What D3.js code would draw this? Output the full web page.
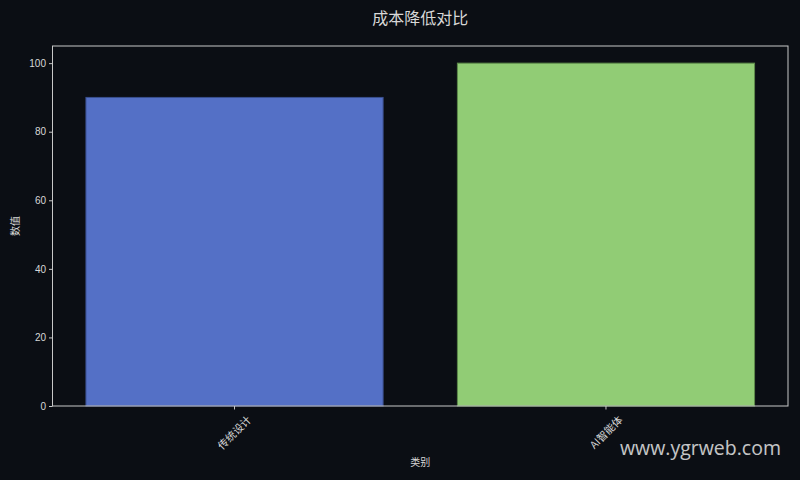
<!DOCTYPE html>
<html>
<head>
<meta charset="utf-8">
<script src="https://cdn.jsdelivr.net/npm/d3@7"></script>
<style>
  html, body { margin: 0; padding: 0; background: #0b0e14; }
  svg { display: block; }
</style>
</head>
<body>
<svg id="chart" width="800" height="480"></svg>
<script>
// chart data
const categories = ["传统设计", "AI智能体"];
const values = [90, 100];
const barColors = ["#5470c6", "#91cc75"];
const edgeColors = ["#3a4f8f", "#5d8a4a"];
const yTicks = [0, 20, 40, 60, 80, 100];

const svg = d3.select("#chart");
const width = +svg.attr("width");
const height = +svg.attr("height");
const margin = { top: 46, right: 12, bottom: 74, left: 52.5 };
const textColor = "#d8d8d8";
const cjk = "'Noto Sans CJK SC', 'DejaVu Sans', sans-serif";
const latin = "'Liberation Sans', Arial, 'Noto Sans CJK SC', sans-serif";

svg.append("rect").attr("width", width).attr("height", height).attr("fill", "#0b0e14");

const x = d3.scaleBand()
    .domain(categories)
    .range([margin.left, width - margin.right])
    .paddingInner(0.2)
    .paddingOuter(0.09);

const y = d3.scaleLinear()
    .domain([0, 105])
    .range([height - margin.bottom, margin.top]);

// bars
svg.selectAll("rect.bar")
    .data(values)
    .join("rect")
    .attr("class", "bar")
    .attr("x", (d, i) => x(categories[i]))
    .attr("y", d => y(d))
    .attr("width", x.bandwidth())
    .attr("height", d => y(0) - y(d))
    .attr("fill", (d, i) => barColors[i])
    .attr("stroke", (d, i) => edgeColors[i])
    .attr("stroke-width", 1);

// frame
svg.append("rect")
    .attr("x", margin.left)
    .attr("y", margin.top)
    .attr("width", width - margin.right - margin.left)
    .attr("height", height - margin.bottom - margin.top)
    .attr("fill", "none")
    .attr("stroke", "#c8c8c8")
    .attr("stroke-width", 1);

// y axis
const yAxis = svg.append("g")
    .attr("transform", `translate(${margin.left},0)`)
    .call(d3.axisLeft(y).tickValues(yTicks).tickSize(3.5).tickPadding(3));
yAxis.select(".domain").remove();
yAxis.selectAll("line").attr("stroke", "#c8c8c8");
yAxis.selectAll("text")
    .attr("fill", textColor)
    .style("font-family", latin)
    .style("font-size", "10px");

// x axis
const xAxis = svg.append("g")
    .attr("transform", `translate(0,${height - margin.bottom})`)
    .call(d3.axisBottom(x).tickSize(3.5).tickPadding(2));
xAxis.select(".domain").remove();
xAxis.selectAll("line").attr("stroke", "#c8c8c8");
xAxis.selectAll("text")
    .attr("fill", textColor)
    .style("font-family", cjk)
    .style("font-size", "10.5px")
    .attr("text-anchor", "end")
    .attr("dy", "0.35em")
    .attr("transform", "translate(11,8) rotate(-45)");

// labels
svg.append("text")
    .attr("x", (margin.left + width - margin.right) / 2)
    .attr("y", 24)
    .attr("text-anchor", "middle")
    .attr("fill", textColor)
    .style("font-family", cjk)
    .style("font-size", "16px")
    .text("成本降低对比");

svg.append("text")
    .attr("x", (margin.left + width - margin.right) / 2)
    .attr("y", 466)
    .attr("text-anchor", "middle")
    .attr("fill", textColor)
    .style("font-family", cjk)
    .style("font-size", "10px")
    .text("类别");

svg.append("text")
    .attr("transform", `translate(19,${(margin.top + height - margin.bottom) / 2}) rotate(-90)`)
    .attr("text-anchor", "middle")
    .attr("fill", textColor)
    .style("font-family", cjk)
    .style("font-size", "10px")
    .text("数值");

// watermark
svg.append("text")
    .attr("x", 781)
    .attr("y", 455)
    .attr("text-anchor", "end")
    .attr("fill", "#e6e6e6")
    .attr("opacity", 0.85)
    .style("font-family", "'Open Sans', 'Noto Sans', sans-serif")
    .style("font-size", "19.5px")
    .text("www.ygrweb.com");
</script>
</body>
</html>
